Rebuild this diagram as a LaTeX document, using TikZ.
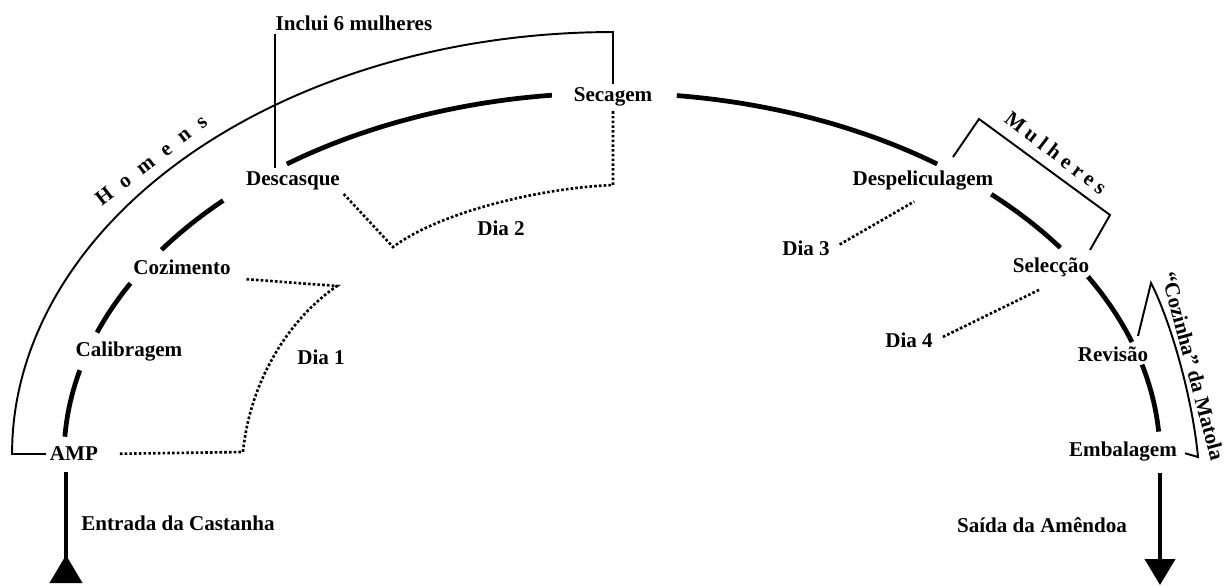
\documentclass[tikz,border=0pt]{standalone}
\usepackage{fontspec}
\setmainfont{Liberation Serif}
\newfontfamily\homensfont[LetterSpace=58]{Liberation Serif}
\newfontfamily\mulheresfont[LetterSpace=25]{Liberation Serif}
\usetikzlibrary{arrows.meta}

\begin{document}
\begin{tikzpicture}[
  x = 0.02cm, y = -0.02cm,
  stage/.style = {
    inner sep=2pt,
    font=\fontsize{12}{14}\selectfont\bfseries
  },
  track/.style = {line width=2.7pt},
  bracket/.style = {line width=1.1pt},
  dayline/.style = {line width=1.5pt, dash pattern=on 1.5pt off 1.2pt},
  flow/.style = {line width=2.4pt}
]

\useasboundingbox (0,0) rectangle (1226,585);

\node[stage] (amp) at (74,454) {AMP};
\node[stage] (calibragem) at (129,352) {Calibragem};
\node[stage] (cozimento) at (182,267) {Cozimento};
\node[stage] (descasque) at (293,181) {Descasque};
\node[stage] (secagem) at (613,97) {Secagem};
\node[stage] (despel) at (923,181) {Despeliculagem};
\node[stage] (seleccao) at (1051,267) {Selecção};
\node[stage] (revisao) at (1113,354) {Revisão};
\node[stage] (embalagem) at (1123,452) {Embalagem};

\node[stage] (entrada) at (178,523) {Entrada da Castanha};
\node[stage] (saida) at (1042,525) {Saída da Amêndoa};
\node[stage] (inclui) at (354,23) {Inclui 6 mulheres};

\node[stage] (dia1) at (321,357) {Dia 1};
\node[stage] (dia2) at (501,228) {Dia 2};
\node[stage] (dia3) at (806,248) {Dia 3};
\node[stage] (dia4) at (909,340) {Dia 4};

\node[stage, rotate=37.7] (homens) at (151,160) {\homensfont Homens};
\node[stage, rotate=-37.6] (mulheres) at (1056,153) {\mulheresfont Mulheres};
\node[stage, rotate=-75] (cozinha) at (1193,366) {“Cozinha” da Matola};

\draw[track] plot[domain=176.8:166.2, samples=12, smooth] ({612+548*cos(\x)}, {457-364*sin(\x)});
\draw[track] plot[domain=160:151.5, samples=12, smooth] ({612+548*cos(\x)}, {457-364*sin(\x)});
\draw[track] plot[domain=145.3:135.2, samples=12, smooth] ({612+548*cos(\x)}, {457-364*sin(\x)});
\draw[track] plot[domain=126.4:96.3, samples=25, smooth] ({612+548*cos(\x)}, {457-364*sin(\x)});
\draw[track] plot[domain=83.2:53.6, samples=25, smooth] ({612+548*cos(\x)}, {457-364*sin(\x)});
\draw[track] plot[domain=46.2:35.1, samples=12, smooth] ({612+548*cos(\x)}, {457-364*sin(\x)});
\draw[track] plot[domain=29.7:18.4, samples=12, smooth] ({612+548*cos(\x)}, {457-364*sin(\x)});
\draw[track] plot[domain=14.7:4, samples=12, smooth] ({612+548*cos(\x)}, {457-364*sin(\x)});

\draw[bracket] (amp.west) -- (12,454) -- plot[domain=180:90, samples=40, smooth] ({613+601*cos(\x)}, {454-422*sin(\x)}) -- (secagem.north);

\coordinate (incl) at ([xshift=2pt]inclui.south west);
\draw[bracket] (incl) -- (incl |- descasque.north);

\draw[bracket] (953,157) -- (979,119) -- (1110,215) -- (1090,250);
\draw[bracket, shorten <=2.5pt] (embalagem.east) -- (1198,457) .. controls (1192,395) and (1170,320) .. (1151,283) -- (1138,336);

\coordinate (d1a) at (243,452);
\coordinate (d1b) at (337,286);
\draw[dayline, shorten <=0.36cm, shorten >=0.24cm] (amp.east) -- (d1a) .. controls (250,380) and (290,318) .. (d1b) -- (cozimento.south east);

\coordinate (d2a) at (393,247);
\coordinate (d2b) at (613,185);
\draw[dayline] (descasque.south east) -- (d2a) .. controls (440,212) and (540,188) .. (d2b) -- (secagem.south);

\draw[dayline, shorten <=4pt] (dia3.east) -- ([shift={(-5pt,-4pt)}]despel.south);
\draw[dayline, shorten <=4pt] (dia4.east) -- ([shift={(-6pt,-5pt)}]seleccao.south);

\coordinate (inlet) at (66,583);
\coordinate (outlet) at (1160,585);
\draw[flow, shorten <=4pt, -{Triangle[reversed, width=0.64cm, length=0.56cm]}] (inlet |- amp.south) -- (inlet);
\draw[flow, shorten <=4pt, -{Triangle[width=0.6cm, length=0.52cm]}] (outlet |- embalagem.south) -- (outlet);

\end{tikzpicture}
\end{document}
